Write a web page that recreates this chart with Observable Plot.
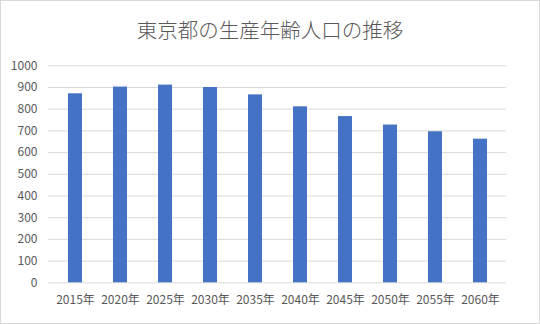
<!DOCTYPE html>
<html>
<head>
<meta charset="utf-8">
<script src="https://cdn.jsdelivr.net/npm/d3@7"></script>
<script src="https://cdn.jsdelivr.net/npm/@observablehq/plot@0.6"></script>
<style>
  html, body { margin: 0; padding: 0; background: #fff; }
  #wrap { position: relative; width: 540px; height: 324px; box-sizing: border-box; border: 1px solid #d9d9d9; background: #fff; overflow: hidden; }
  #title { position: absolute; top: 16px; left: 0; width: 100%; text-align: center; font-family: "Noto Sans CJK JP", sans-serif; font-size: 20.5px; line-height: 24px; color: #595959; font-weight: 300; }
  #chart { position: absolute; top: 0; left: 0; }
</style>
</head>
<body>
<div id="wrap">
  <div id="title">東京都の生産年齢人口の推移</div>
  <div id="chart"></div>
</div>
<script>
const years = ["2015年","2020年","2025年","2030年","2035年","2040年","2045年","2050年","2055年","2060年"];
const values = [871, 902, 911, 900, 866, 811, 766, 727, 696, 662];
const yTicks = [0,100,200,300,400,500,600,700,800,900,1000];

const data = years.map((y, i) => ({year: y, value: values[i]}));

const plot = Plot.plot({
  width: 538,
  height: 322,
  marginTop: 64.3,
  marginBottom: 40.7,
  marginLeft: 47,
  marginRight: 33,
  style: { fontFamily: "'Noto Sans CJK JP', sans-serif", fontSize: "12px", color: "#595959", background: "transparent" },
  x: { domain: years, paddingInner: 0.69, paddingOuter: 0.345, label: null },
  y: { domain: [0, 1000], label: null },
  marks: [
    Plot.gridY(yTicks, { stroke: "#d9d9d9", strokeOpacity: 1, strokeWidth: 1 }),
    Plot.barY(data, { x: "year", y: "value", fill: "#4472C4" }),
    Plot.axisY(yTicks, { tickSize: 0, tickPadding: 11, fontSize: 12, fill: "#595959", label: null, tickFormat: d => String(d) }),
    Plot.axisX({ tickSize: 0, tickPadding: 13, fontSize: 12, fill: "#595959", label: null })
  ]
});
document.getElementById("chart").appendChild(plot);
</script>
</body>
</html>
